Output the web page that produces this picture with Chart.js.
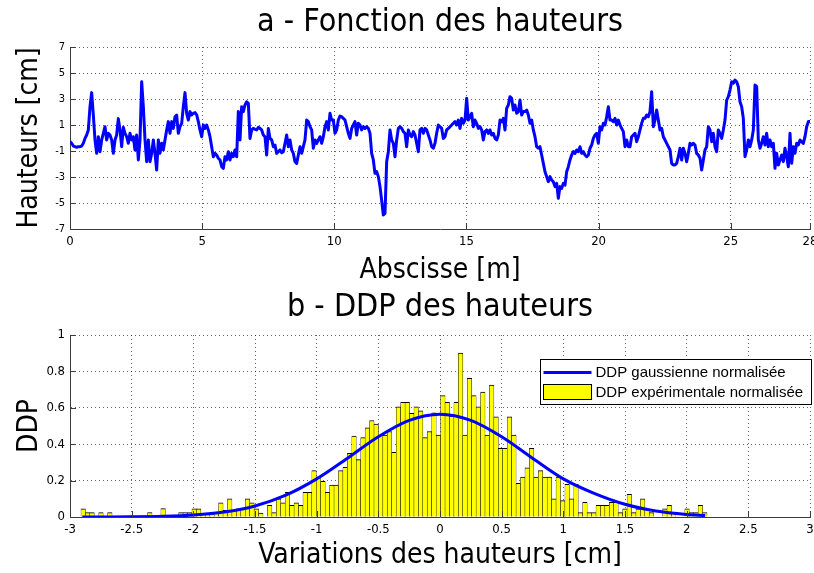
<!DOCTYPE html>
<html>
<head>
<meta charset="utf-8">
<script src="https://cdn.jsdelivr.net/npm/chart.js@4.4.1/dist/chart.umd.min.js"></script>
<style>
  html, body { margin: 0; padding: 0; background: #fff; }
  #page { position: relative; width: 814px; height: 573px; overflow: hidden; background: #fff; }
  canvas { position: absolute; left: 0; }
  #profil { top: 0; }
  #ddp { top: 285px; }
</style>
</head>
<body>
<div id="page">
  <canvas id="profil" width="814" height="290"></canvas>
  <canvas id="ddp" width="814" height="288"></canvas>
</div>
<script>
// ---- a : profil des hauteurs (cm), échantillonné tous les pasAbscisse mètres ----
const longueurProfil = 28;
const pasAbscisse = longueurProfil / 444;
const hauteurs = [
  -0.28,-0.41,-0.62,-0.67,-0.72,-0.67,-0.67,-0.62,-0.41,-0.03,
  0.23,0.62,2.41,3.49,1.77,-0.15,-1.18,0.10,-1.05,-0.15,
  0.36,0.87,-0.15,0.36,0.23,-0.15,-1.18,-0.15,0.23,1.49,
  0.62,-0.67,0.82,0.36,0.10,-0.41,0.36,-0.15,0.10,-0.92,
  0.23,-1.69,-0.15,4.33,2.41,-0.15,-1.82,-0.15,-1.82,-1.18,
  -0.15,-1.18,-2.46,-0.15,-1.18,-0.41,-0.92,-0.15,0.62,1.26,
  0.36,1.26,0.74,1.64,1.77,0.36,0.87,1.13,2.41,3.49,
  1.90,1.38,2.03,1.77,1.90,1.95,1.77,1.26,0.62,0.10,
  1.00,0.74,1.00,0.62,0.10,-0.67,-1.44,-1.18,-1.31,-1.56,
  -1.69,-2.21,-2.33,-1.44,-1.69,-1.05,-1.69,-1.18,-1.44,-0.92,
  -1.44,2.03,-0.15,2.41,2.03,2.54,2.79,2.67,-0.03,0.62,
  0.74,0.67,0.62,0.82,0.74,0.62,0.23,0.10,-1.31,0.74,
  -0.03,-0.15,-0.67,-0.54,-1.18,-1.05,-0.92,-1.13,-1.05,-0.41,
  0.23,-0.67,-0.15,-0.92,-1.18,-1.82,-1.95,-1.31,
  -0.67,-1.18,-0.67,-0.15,1.38,1.26,0.87,0.62,-0.79,-0.15,
  -0.41,-0.15,0.10,-0.41,0.10,0.87,1.26,0.62,1.90,1.38,
  1.38,0.36,0.62,1.38,1.69,1.64,1.51,1.38,0.87,0.36,
  -0.03,0.74,1.00,1.26,0.23,1.13,1.00,0.62,0.87,0.74,
  0.87,0.74,0.36,-1.18,-1.69,-2.72,-2.59,-2.97,-3.74,-4.80,
  -5.92,-5.80,-1.82,-1.05,0.62,-0.15,-0.41,-1.44,-0.15,0.74,
  0.87,0.74,0.49,0.36,-0.67,0.62,0.23,0.10,0.49,0.23,
  -0.41,-1.05,0.62,0.74,0.36,0.74,0.62,0.23,-0.15,-0.67,
  -0.79,-0.41,0.36,1.00,0.87,0.74,-0.03,0.10,0.62,0.74,
  0.87,1.00,1.13,1.26,1.00,1.38,0.74,1.51,1.13,1.38,
  3.05,1.38,1.64,1.90,0.87,1.38,1.13,0.74,0.87,0.62,
  -0.15,0.49,0.62,0.36,0.62,0.23,0.36,-0.03,-0.15,0.23,
  1.38,1.26,1.51,0.62,2.28,2.54,3.18,3.05,2.15,2.54,
  1.90,2.03,2.92,1.77,2.03,2.03,2.15,1.77,1.13,1.38,
  0.62,0.10,-0.67,-0.79,
  -0.67,-1.31,-1.95,-2.59,-2.97,-3.36,-2.97,-3.23,-3.36,-3.74,
  -3.49,-4.64,-3.74,-3.87,-3.49,-3.62,-2.59,-2.21,-1.69,-1.31,
  -1.05,-1.18,-0.92,-1.05,-0.67,-1.18,-1.05,-1.31,-1.44,-1.31,
  -0.79,-0.54,-0.03,0.23,0.36,-0.41,0.87,0.62,1.13,1.00,
  1.64,2.41,1.38,1.38,1.26,1.51,1.00,1.38,1.00,0.74,
  0.49,-0.67,-0.15,-0.67,-0.67,0.10,0.23,0.36,-0.28,0.10,
  0.62,1.13,1.51,1.51,1.77,1.64,2.03,3.56,0.87,1.38,
  2.15,1.38,0.62,0.74,0.10,-0.15,-0.41,-0.67,-0.92,-1.95,
  -2.08,-2.08,-1.95,-1.44,-0.79,-1.69,-0.79,-1.18,-1.82,-1.18,
  -0.41,-0.54,-0.41,-0.54,-1.18,-1.31,-1.56,-2.46,-1.69,-0.92,
  -0.67,0.87,0.62,-0.28,0.36,-0.67,-1.05,0.62,0.36,-0.03,
  0.62,1.38,2.92,3.18,3.69,4.33,4.21,4.46,4.33,3.95,
  2.79,2.41,1.51,-1.44,-0.92,-0.15,-0.67,-0.15,0.62,4.08,
  3.95,-0.15,-0.79,-0.41,0.10,-0.54,0.36,-0.67,-0.15,-0.67,
  -0.41,-2.33,-1.18,-2.08,-1.69,-1.31,-1.82,-0.79,-1.44,-2.21,
  0.36,-1.95,-0.67,-1.18,-0.41,-0.54,-0.15,-0.28,-0.41,0.10,
  0.87,1.26,1.26
];
const ticksAbscisse = [0, 5, 10, 15, 20, 25, 28];
const ticksHauteurs = [-7, -5, -3, -1, 1, 3, 5, 7];

// ---- b : densité de probabilité des hauteurs ----
const classeDebut = -2.911;   // bord gauche de la première classe (cm)
const classeLargeur = 0.036;  // largeur d'une classe (cm)
const ddpExperimentale = [
  0.045,0.024,0.024,0,0.024,0,0.024,0,0,0,
  0,0,0,0,0,0.024,0,0,0.046,0,
  0,0,0.024,0.024,0.024,0.045,0.045,0.018,0.015,0.018,
  0.02,0.078,0.036,0.1,0.036,0.045,0.045,0.1,0.078,0.045,
  0.022,0,0.064,0.024,0.1,0.078,0.136,0.064,0.078,0.064,
  0.136,0.136,0.255,0.22,0.196,0.136,0.176,0.176,0.255,0.273,
  0.35,0.445,0.315,0.436,0.49,0.53,0.51,0.45,0.45,0.47,
  0.355,0.606,0.63,0.63,0.57,0.606,0.584,0.436,0.47,0.573,
  0.45,0.667,0.63,0.555,0.63,0.9,0.45,0.762,0.667,0.606,
  0.687,0.45,0.725,0.551,0.377,0.377,0.551,0.45,0.185,0.22,
  0.27,0.377,0.22,0.255,0.22,0.22,0.1,0.22,0.09,0.18,
  0.1,0.18,0.024,0.08,0.024,0.024,0.064,0.064,0.064,0.08,
  0.08,0.024,0.045,0.124,0.024,0.045,0.1,0.045,0.024,0,
  0,0.045,0.064,0.024,0,0,0.045,0.024,0.024,0.064,
  0.024
];
const gaussX = [-2.9,-2.75,-2.5,-2.25,-2,-1.75,-1.5,-1.25,-1,-0.75,-0.5,-0.25,0,0.25,0.5,0.75,1,1.25,1.5,1.75,2,2.15];
const gaussY = [0.0001,0.0003,0.0011,0.0037,0.0107,0.0271,0.0606,0.12,0.2096,0.3234,0.4409,0.531,0.565,0.531,0.4409,0.3234,0.2096,0.13,0.07,0.033,0.014,0.008];
const ticksVariations = [-3,-2.5,-2,-1.5,-1,-0.5,0,0.5,1,1.5,2,2.5,3];
const ticksDDP = [0,0.2,0.4,0.6,0.8,1];
const libellesLegende = ['DDP gaussienne normalisée', 'DDP expérimentale normalisée'];

// ---- style ----
const NARROW = "'Liberation Sans Narrow','DejaVu Sans Condensed','Arial Narrow',sans-serif";
const SANS = "'Liberation Sans',Arial,sans-serif";
const AXE = '#3c3c3c';
const GRILLE = 'rgba(0,0,0,0.6)';
const BLEU = '#0000ff';
const JAUNE = '#ffff00';

// small inward tick marks on the left and bottom axes
const ticksInternes = {
  id: 'ticksInternes',
  afterDatasetsDraw(chart) {
    const { ctx, chartArea: a, scales: { x, y } } = chart;
    ctx.save();
    ctx.strokeStyle = AXE;
    ctx.lineWidth = 1;
    ctx.beginPath();
    x.ticks.forEach(t => {
      const px = Math.round(x.getPixelForValue(t.value)) + 0.5;
      ctx.moveTo(px, a.bottom);
      ctx.lineTo(px, a.bottom - 6);
    });
    y.ticks.forEach(t => {
      const py = Math.round(y.getPixelForValue(t.value)) + 0.5;
      ctx.moveTo(a.left, py);
      ctx.lineTo(a.left + 6, py);
    });
    ctx.stroke();
    ctx.restore();
  }
};

// boxed legend in the upper-right corner of the DDP axes
const legendeEncadree = {
  id: 'legendeEncadree',
  afterDraw(chart) {
    const { ctx, chartArea: a } = chart;
    const w = 271, h = 45;
    const x0 = Math.round(a.right - w + 1) + 0.5;
    const y0 = Math.round(a.top + 24) + 0.5;
    ctx.save();
    ctx.fillStyle = '#fff';
    ctx.fillRect(x0, y0, w, h);
    ctx.strokeStyle = '#000';
    ctx.lineWidth = 1;
    ctx.strokeRect(x0, y0, w, h);
    // gaussian entry
    ctx.strokeStyle = BLEU;
    ctx.lineWidth = 3;
    ctx.beginPath();
    ctx.moveTo(x0 + 3, y0 + 13);
    ctx.lineTo(x0 + 51, y0 + 13);
    ctx.stroke();
    // histogram entry
    ctx.fillStyle = JAUNE;
    ctx.fillRect(x0 + 3, y0 + 25, 48, 15);
    ctx.strokeStyle = '#000';
    ctx.lineWidth = 1;
    ctx.strokeRect(x0 + 3, y0 + 25, 48, 15);
    ctx.fillStyle = '#000';
    ctx.font = '15px ' + SANS;
    ctx.textBaseline = 'middle';
    ctx.textAlign = 'left';
    ctx.fillText(libellesLegende[0], x0 + 55, y0 + 13);
    ctx.fillText(libellesLegende[1], x0 + 55, y0 + 33);
    ctx.restore();
  }
};

function axeX(min, max, valeurs, titre, hauteur, padTitre, fmt) {
  return {
    type: 'linear', min, max, offset: false,
    afterBuildTicks: s => { s.ticks = valeurs.map(v => ({ value: v })); },
    afterFit: s => { s.height = hauteur; s.paddingLeft = 0; s.paddingRight = 0; },
    ticks: { autoSkip: false, maxRotation: 0, padding: 5, color: '#000',
             font: { family: NARROW, size: 13 }, callback: fmt },
    grid: { color: GRILLE, lineWidth: 1, drawTicks: false, offset: false },
    border: { display: true, color: AXE, width: 1, dash: [1, 3] },
    title: { display: true, text: titre, color: '#000',
             font: { family: NARROW, size: 28 }, padding: { top: 0, bottom: padTitre } }
  };
}
function axeY(min, max, valeurs, titre, taille, padTitre, fmt) {
  return {
    type: 'linear', min, max,
    afterBuildTicks: s => { s.ticks = valeurs.map(v => ({ value: v })); },
    afterFit: s => { s.width = 70; s.paddingTop = 0; s.paddingBottom = 0; },
    ticks: { padding: 5, color: '#000', font: { family: NARROW, size: taille }, callback: fmt },
    grid: { color: GRILLE, lineWidth: 1, drawTicks: false },
    border: { display: true, color: AXE, width: 1, dash: [1, 3] },
    title: { display: true, text: titre, color: '#000',
             font: { family: NARROW, size: 28 }, padding: { top: padTitre, bottom: 0 } }
  };
}
function titre(texte, basPad) {
  return { display: true, text: texte, fullSize: false, color: '#000',
           font: { family: NARROW, size: 32, weight: 'normal' },
           padding: { top: 3.8, bottom: basPad } };
}

// ---- a - Fonction des hauteurs ----
new Chart(document.getElementById('profil'), {
  type: 'line',
  data: {
    datasets: [{
      data: hauteurs.map((h, i) => ({ x: i * pasAbscisse, y: h })),
      borderColor: BLEU, borderWidth: 3, pointRadius: 0,
      borderJoinStyle: 'round', tension: 0, fill: false
    }]
  },
  options: {
    responsive: false, animation: false, devicePixelRatio: 1,
    layout: { padding: { left: 0, right: 4, top: 0, bottom: 0 } },
    scales: {
      x: axeX(0, 28, ticksAbscisse, 'Abscisse [m]', 61, 2, v => String(v)),
      y: axeY(-7, 7, ticksHauteurs, 'Hauteurs [cm]', 11, 13, v => String(v))
    },
    plugins: {
      title: titre('a - Fonction des hauteurs', 4.8),
      legend: { display: false },
      tooltip: { enabled: false }
    }
  },
  plugins: [ticksInternes]
});

// ---- b - DDP des hauteurs ----
new Chart(document.getElementById('ddp'), {
  type: 'bar',
  data: {
    datasets: [
      {
        type: 'line',
        label: libellesLegende[0],
        data: gaussX.map((x, i) => ({ x, y: gaussY[i] })),
        borderColor: BLEU, borderWidth: 3, pointRadius: 0,
        cubicInterpolationMode: 'monotone', fill: false
      },
      {
        type: 'bar',
        label: libellesLegende[1],
        data: ddpExperimentale.map((v, i) => ({ x: classeDebut + classeLargeur * (i + 0.5), y: v })),
        backgroundColor: JAUNE, borderColor: '#000',
        borderWidth: { top: 1, left: 0.5, right: 0.5, bottom: 0 },
        borderSkipped: false,
        barPercentage: 1, categoryPercentage: 1
      }
    ]
  },
  options: {
    responsive: false, animation: false, devicePixelRatio: 1,
    layout: { padding: { left: 0, right: 4, top: 0, bottom: 0 } },
    scales: {
      x: axeX(-3, 3, ticksVariations, 'Variations des hauteurs [cm]', 56, 0, v => String(v)),
      y: axeY(0, 1, ticksDDP, 'DDP', 13, 13, v => String(v))
    },
    plugins: {
      title: titre('b - DDP des hauteurs', 7.8),
      legend: { display: false },
      tooltip: { enabled: false }
    }
  },
  plugins: [ticksInternes, legendeEncadree]
});
</script>
</body>
</html>
